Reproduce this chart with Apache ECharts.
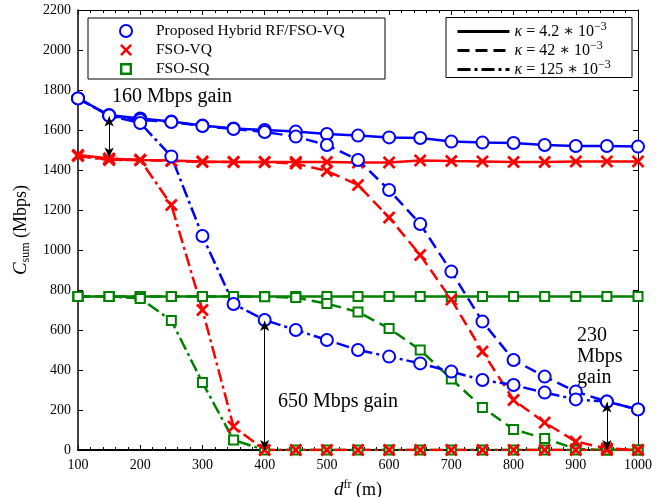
<!DOCTYPE html>
<html><head><meta charset="utf-8">
<script src="https://cdn.jsdelivr.net/npm/echarts@6/dist/echarts.min.js"></script>
<style>html,body{margin:0;padding:0;background:#fff}#c{width:668px;height:497px}</style>
</head><body><div id="c"></div>
<script>
const distances = [100,150,200,250,300,350,400,450,500,550,600,650,700,750,800,850,900,950,1000];
const xTicks = [100,200,300,400,500,600,700,800,900,1000];
const yTicks = [0,200,400,600,800,1000,1200,1400,1600,1800,2000,2200];

const hybridK1 = [1758,1675,1658,1642,1622,1608,1600,1592,1580,1572,1563,1560,1542,1537,1535,1525,1520,1520,1517];
const fsoVqK1  = [1475,1458,1450,1447,1442,1440,1440,1440,1440,1438,1438,1448,1445,1443,1440,1440,1442,1443,1443];
const fsoSqK1  = [768,768,768,768,768,768,768,768,768,768,768,768,768,768,768,768,768,768,768];

const hybridK2 = [1758,1672,1650,1640,1620,1605,1590,1567,1525,1450,1300,1130,892,642,450,367,292,242,203];
const fsoVqK2  = [1472,1452,1450,1445,1440,1440,1440,1432,1395,1325,1162,975,752,492,250,137,42,8,0];
const fsoSqK2  = [768,768,768,768,768,768,766,762,732,690,608,500,355,213,103,58,5,0,0];

const hybridK3 = [1758,1672,1635,1468,1070,730,650,600,550,500,467,433,392,350,325,287,253,242,203];
const fsoVqK3  = [1470,1450,1450,1225,700,117,0,0,0,0,0,0,0,0,0,0,0,0,0];
const fsoSqK3  = [768,768,758,647,337,50,0,0,0,0,0,0,0,0,0,0,0,0,0];

const schemeNames = ['Proposed Hybrid RF/FSO-VQ','FSO-VQ','FSO-SQ'];
const kappaNames = ['k1','k2','k3'];
const kappaLabels = ['4.2','42','125'];

// gain arrows: [x, yTop, yBottom]
const gainArrows = [[150,1668,1462],[400,645,0],[950,238,0]];

const FONT = "'Liberation Serif', 'DejaVu Serif', serif";
const BLUE = '#0000ff', RED = '#ff0000', GREEN = '#008000';
const XPATH = 'path://M0,1.5 L1.5,0 L5,3.5 L8.5,0 L10,1.5 L6.5,5 L10,8.5 L8.5,10 L5,6.5 L1.5,10 L0,8.5 L3.5,5 Z';
const SQPATH = 'path://M0,0 L10,0 L10,10 L0,10 Z M2,2 L2,8 L8,8 L8,2 Z';
const DASH = [12,6];
const DASHDOT = [13,4,3,4];
const lineTypes = ['solid', DASH, DASHDOT];

function pairs(arr){ return distances.map((d,i)=>[d,arr[i]]); }

const styles = {
  blue:  {color: BLUE,  symbol: 'emptyCircle', symbolSize: 12, borderWidth: 3},
  red:   {color: RED,   symbol: XPATH, symbolSize: 13, borderWidth: 0},
  green: {color: GREEN, symbol: 'emptyRect', symbolSize: 9, borderWidth: 2.2}
};

function mk(name, arr, st, k) {
  return {
    name: name, type: 'line', data: pairs(arr),
    symbol: st.symbol, symbolSize: st.symbolSize, showAllSymbol: true,
    itemStyle: {color: st.color, borderColor: st.color, borderWidth: st.borderWidth},
    lineStyle: {color: st.color, width: 2.5, type: lineTypes[k]},
    emphasis: {disabled: true}, silent: true, z: 2
  };
}

const series = [];
[[fsoSqK1,fsoSqK2,fsoSqK3,'green','sq'],[fsoVqK1,fsoVqK2,fsoVqK3,'red','vq'],[hybridK1,hybridK2,hybridK3,'blue','hy']].forEach(g=>{
  for (let k=0;k<3;k++) series.push(mk(g[4]+k, g[k], styles[g[3]], k));
});
series[series.length-1].markLine = {
  silent: true, symbol: ['arrow','arrow'], symbolSize: [7,10],
  lineStyle: {color: '#000', width: 1, type: 'solid'},
  label: {show: false}, animation: false,
  data: gainArrows.map(a => [{coord:[a[0],a[1]]},{coord:[a[0],a[2]]}])
};
series.push({name: schemeNames[0], type:'line', data:[], symbol:'emptyCircle', itemStyle:{color:BLUE, borderWidth:3}, lineStyle:{color:BLUE}});
series.push({name: schemeNames[1], type:'line', data:[], symbol:XPATH, itemStyle:{color:RED}, lineStyle:{color:RED}});
series.push({name: schemeNames[2], type:'line', data:[], symbol:SQPATH, itemStyle:{color:GREEN}, lineStyle:{color:GREEN}});
kappaNames.forEach((n,k)=>series.push({name:n, type:'line', data:[], symbol:'none', itemStyle:{color:'#000'}, lineStyle:{color:'#000', width:3, type: lineTypes[k]}}));

const plainLabel = v => String(v);

const axisCommonX = {
  type:'value', min:100, max:1000, interval:100,
  axisLine:{show:true, onZero:false, lineStyle:{color:'#000', width:1}},
  axisTick:{show:true, inside:true, length:5, lineStyle:{color:'#000'}},
  minorTick:{show:true, splitNumber:5, length:3, lineStyle:{color:'#000'}},
  splitLine:{show:false}, minorSplitLine:{show:false}
};
const axisCommonY = {
  type:'value', min:0, max:2200, interval:200,
  axisLine:{show:true, onZero:false, lineStyle:{color:'#000', width:1}},
  axisTick:{show:true, inside:true, length:5, lineStyle:{color:'#000'}},
  splitLine:{show:false}
};

const option = {
  animation: false,
  backgroundColor: '#fff',
  grid: {left:78, right:30, top:10, bottom:47, containLabel:false, outerBoundsMode:'none'},
  xAxis: [
    Object.assign({}, axisCommonX, {
      position:'bottom',
      axisLine:{show:true, onZero:false, lineStyle:{color:'#000', width:2}},
      axisLabel:{color:'#000', fontFamily:FONT, fontSize:14, margin:8, formatter: plainLabel},
      name:'{i|d}{sup|fr} (m)', nameLocation:'middle', nameGap:29,
      nameTextStyle:{color:'#000', fontFamily:FONT, fontSize:18,
        rich:{i:{fontStyle:'italic', fontFamily:FONT, fontSize:19, color:'#000'},
              sup:{fontFamily:FONT, fontSize:12, color:'#000', padding:[0,0,10,0]}}}
    }),
    Object.assign({}, axisCommonX, {position:'top', axisLabel:{show:false}})
  ],
  yAxis: [
    Object.assign({}, axisCommonY, {
      position:'left',
      axisLine:{show:true, onZero:false, lineStyle:{color:'#000', width:1.5}},
      axisLabel:{color:'#000', fontFamily:FONT, fontSize:14, margin:7, formatter: plainLabel},
      name:'{i|C}{sub|sum} (Mbps)', nameLocation:'middle', nameGap:46, nameRotate:90,
      nameTextStyle:{color:'#000', fontFamily:FONT, fontSize:18,
        rich:{i:{fontStyle:'italic', fontFamily:FONT, fontSize:19, color:'#000'},
              sub:{fontFamily:FONT, fontSize:12, color:'#000', padding:[10,0,0,0]}}}
    }),
    Object.assign({}, axisCommonY, {position:'right', axisLabel:{show:false}})
  ],
  legend: [
    {
      data: [
        {name: schemeNames[0], icon:'emptyCircle'},
        {name: schemeNames[1], icon: XPATH},
        {name: schemeNames[2], icon: SQPATH}
      ],
      orient:'vertical', left:119, top:23, itemWidth:50, itemHeight:12, itemGap:3,
      padding:0, selectedMode:false,
      textStyle:{color:'#000', fontFamily:FONT, fontSize:15.5}
    },
    {
      data: kappaNames,
      orient:'vertical', left:456, top:21, itemWidth:52, itemHeight:12, itemGap:0.5,
      padding:0, selectedMode:false,
      itemStyle:{opacity:0},
      lineStyle:{width:3},
      formatter: function(n){ const k = kappaNames.indexOf(n); return '{i|κ} = ' + kappaLabels[k] + ' ∗ 10{sup|−3}'; },
      textStyle:{color:'#000', fontFamily:FONT, fontSize:16,
        rich:{i:{fontStyle:'italic', fontFamily:FONT, fontSize:16, color:'#000'},
              sup:{fontFamily:FONT, fontSize:12, color:'#000', padding:[0,0,9,0]}}}
    }
  ],
  graphic: [
    {type:'rect', z:-1, shape:{x:88, y:18, width:297, height:61}, style:{fill:'#fff', stroke:'#000', lineWidth:1}},
    {type:'rect', z:-1, shape:{x:446, y:17.5, width:186, height:60}, style:{fill:'#fff', stroke:'#000', lineWidth:1}},
    {type:'text', left:112, top:87, style:{text:'160 Mbps gain', font:'20px ' + FONT, fill:'#000'}},
    {type:'text', left:278, top:392, style:{text:'650 Mbps gain', font:'20px ' + FONT, fill:'#000'}},
    {type:'text', left:577, top:325, style:{text:'230\nMbps\ngain', font:'20px ' + FONT, fill:'#000', lineHeight:21}}
  ],
  series: series
};
const chart = echarts.init(document.getElementById('c'), null, {renderer:'canvas'});
chart.setOption(option);
</script></body></html>
